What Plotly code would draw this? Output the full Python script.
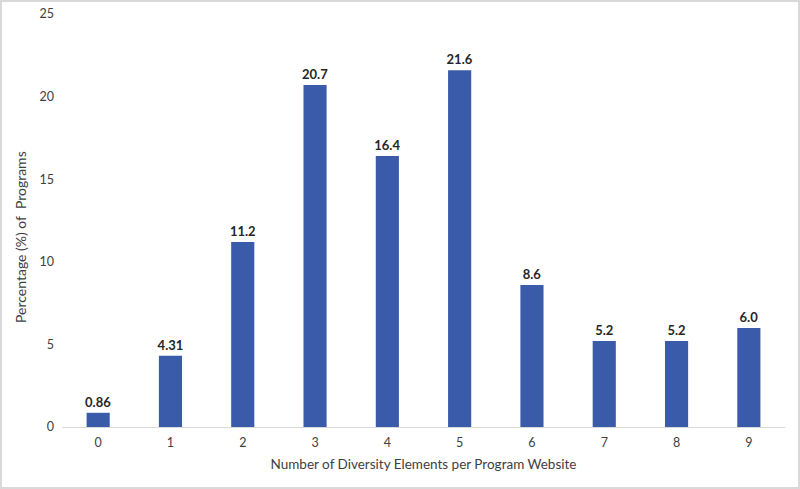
import plotly.graph_objects as go

categories = ["0", "1", "2", "3", "4", "5", "6", "7", "8", "9"]
values = [0.86, 4.31, 11.2, 20.7, 16.4, 21.6, 8.6, 5.2, 5.2, 6.0]
labels = ["0.86", "4.31", "11.2", "20.7", "16.4", "21.6", "8.6", "5.2", "5.2", "6.0"]

W, H = 800, 489
L, R, T, B = 62, 15, 14, 62
pw, ph = W - L - R, H - T - B

fig = go.Figure(go.Bar(
    x=categories, y=values, text=labels, textposition="outside",
    textfont=dict(family="Lato, Open Sans, sans-serif", size=13, color="#262626", weight="bold"),
    marker=dict(color="#3A5BAA", line=dict(width=0)),
    cliponaxis=False, constraintext="none",
))

fig.update_layout(
    width=W, height=H,
    margin=dict(l=L, r=R, t=T, b=B, autoexpand=False),
    plot_bgcolor="white", paper_bgcolor="white",
    bargap=0.68,
    font=dict(family="Lato, Open Sans, sans-serif", color="#404040", size=12),
    xaxis=dict(
        type="category", range=[-0.5, 9.5], showline=True, linecolor="#d9d9d9", linewidth=1,
        ticks="", showgrid=False, tickfont=dict(size=12.5, color="#404040"), automargin=False,
        ticklabelstandoff=4,
        title=dict(text="Number of Diversity Elements per Program Website", font=dict(size=13.5, color="#404040"), standoff=10),
    ),
    yaxis=dict(
        range=[0, 25], dtick=5, showgrid=False, showline=False, zeroline=False, automargin=False,
        tickfont=dict(size=12.5, color="#404040"), ticklabelstandoff=7,
    ),
    annotations=[dict(
        text="Percentage (%) of  Programs", textangle=-90, showarrow=False,
        xref="paper", yref="paper", x=(20 - L) / pw, y=1 - (237 - T) / ph,
        xanchor="center", yanchor="middle", font=dict(size=14, color="#404040"),
    )],
    shapes=[dict(
        type="rect", xref="paper", yref="paper",
        x0=-(L - 1) / pw, x1=1 + (R - 1) / pw, y0=-(B - 1) / ph, y1=1 + (T - 1) / ph,
        line=dict(color="#d9d9d9", width=2), fillcolor="rgba(0,0,0,0)", layer="below",
    )],
)

fig.write_html(
    "out.html",
    config={"displayModeBar": False},
    post_script="document.body.style.margin='0';document.body.style.overflow='hidden';",
)
